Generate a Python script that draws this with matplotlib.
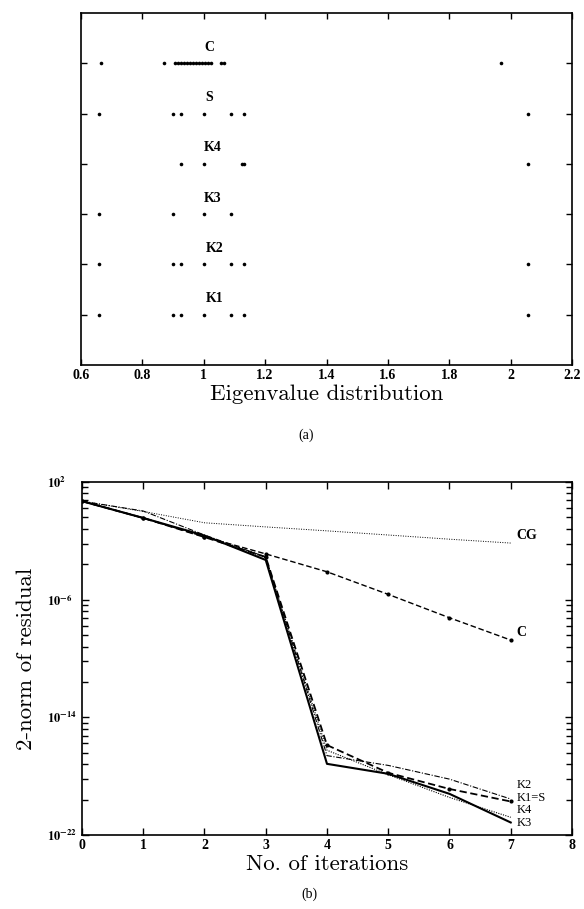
import numpy as np
import matplotlib
matplotlib.use("Agg")
import matplotlib.pyplot as plt
from matplotlib.ticker import FixedLocator, FixedFormatter, NullFormatter

plt.rcParams['mathtext.fontset'] = 'stix'

# ---- panel (a): eigenvalue distribution ----
row_names = ['K1', 'K2', 'K3', 'K4', 'S', 'C']
eig_K1 = [0.66, 0.90, 0.925, 1.0, 1.09, 1.13, 2.055]
eig_K2 = [0.66, 0.90, 0.925, 1.0, 1.09, 1.13, 2.055]
eig_K3 = [0.66, 0.90, 1.0, 1.09]
eig_K4 = [0.925, 1.0, 1.125, 1.13, 2.055]
eig_S = [0.66, 0.90, 0.925, 1.0, 1.09, 1.13, 2.055]
eig_C = [0.664, 0.87, 0.905, 0.915, 0.925, 0.935, 0.945, 0.955, 0.965, 0.975,
         0.985, 0.995, 1.005, 1.015, 1.025, 1.055, 1.065, 1.97]
label_x = [1.035, 1.035, 1.03, 1.03, 1.017, 1.017]

# ---- panel (b): residual history ----
iters = [0, 1, 2, 3, 4, 5, 6, 7]
res_CG = [5.0, 1.0, 0.17, 0.089, 0.048, 0.025, 0.013, 0.0071]
res_C = [5.0, 0.36, 0.019, 1.3e-3, 7.9e-5, 2.3e-6, 5.9e-8, 1.8e-9]
res_K1S = [5.0, 0.36, 0.018, 8.0e-4, 1.3e-16, 1.7e-18, 1.35e-19, 1.9e-20]
res_K2 = [5.0, 1.07, 0.025, 8.0e-4, 2.5e-17, 5.4e-18, 6.3e-19, 2.8e-20]
res_K3 = [5.0, 0.36, 0.023, 5.0e-4, 6.9e-18, 1.45e-18, 6.3e-20, 7.1e-22]
res_K4 = [5.0, 0.36, 0.021, 7.0e-4, 5.8e-17, 1.26e-18, 3.6e-20, 1.6e-21]
curve_labels = ['CG', 'C', 'K2', 'K1=S', 'K4', 'K3']
curve_label_y = [10**-1.63, 10**-8.25, 10**-18.6, 10**-19.45, 10**-20.3, 10**-21.15]

tickfont = dict(family='Liberation Serif', weight='bold', size=10)
labfont = 'cmr10'

fig = plt.figure(figsize=(5.84, 9.09), dpi=100)

# top panel
ax1 = fig.add_axes([0.1387, 0.5985, 0.8408, 0.3872])
rows = [eig_K1, eig_K2, eig_K3, eig_K4, eig_S, eig_C]
for i, vals in enumerate(rows):
    ax1.plot(vals, [i + 1] * len(vals), 'o', color='black', ms=2.6, mew=0)
    ax1.text(label_x[i], i + 1.32, row_names[i], ha='center', va='center',
             family='Liberation Serif', weight='bold', fontsize=10)
ax1.set_xlim(0.6, 2.2)
ax1.set_ylim(0, 7)
ax1.set_xticks([0.6, 0.8, 1.0, 1.2, 1.4, 1.6, 1.8, 2.0, 2.2])
ax1.set_xticklabels(['0.6', '0.8', '1', '1.2', '1.4', '1.6', '1.8', '2', '2.2'], fontdict=tickfont)
ax1.set_yticks([1, 2, 3, 4, 5, 6])
ax1.set_yticklabels([])
ax1.tick_params(direction='in', top=True, right=True, length=4, width=1, pad=3)
ax1.set_xlabel('Eigenvalue distribution', family=labfont, fontsize=16.5, labelpad=2)

# bottom panel
ax2 = fig.add_axes([0.1404, 0.0814, 0.839, 0.3883])
ax2.semilogy(iters, res_CG, color='black', lw=0.7, ls=(0, (1, 1.5)))
ax2.semilogy(iters, res_C, color='black', lw=1.0, ls=(0, (4, 2)), marker='o', ms=3, mew=0)
ax2.semilogy(iters, res_K2, color='black', lw=0.8, ls=(0, (5, 1.5, 1, 1.5)))
ax2.semilogy(iters, res_K4, color='black', lw=0.8, ls=(0, (1, 1.2)))
ax2.semilogy(iters, res_K1S, color='black', lw=1.3, ls=(0, (4, 2)), marker='o', ms=3, mew=0)
ax2.semilogy(iters, res_K3, color='black', lw=1.5, ls='-')
for i, lab in enumerate(curve_labels):
    ax2.text(7.1, curve_label_y[i], lab, ha='left', va='center',
             family='Liberation Serif', weight='bold' if i < 2 else 'normal',
             fontsize=10 if i < 2 else 9)
ax2.set_xlim(0, 8)
ax2.set_ylim(1e-22, 1e2)
ax2.set_xticks(range(9))
ax2.set_xticklabels([str(v) for v in range(9)], fontdict=tickfont)
major = [1e-22, 1e-14, 1e-6, 1e2]
ax2.yaxis.set_major_locator(FixedLocator(major))
ax2.yaxis.set_major_formatter(FixedFormatter([r'$\mathbf{10^{-22}}$', r'$\mathbf{10^{-14}}$',
                                              r'$\mathbf{10^{-6}}$', r'$\mathbf{10^{2}}$']))
minor = []
for base in [-22, -14, -6]:
    for k in range(2, 10):
        minor.append(10 ** (base + 8 * np.log10(k)))
ax2.yaxis.set_minor_locator(FixedLocator(minor))
ax2.yaxis.set_minor_formatter(NullFormatter())
ax2.tick_params(which='both', direction='in', top=True, right=True, width=1)
ax2.tick_params(which='major', length=5)
ax2.tick_params(which='minor', length=4)
ax2.tick_params(axis='x', which='major', pad=3)
ax2.tick_params(axis='y', which='major', pad=25)
for t in ax2.get_yticklabels():
    t.set_horizontalalignment('left')
    t.set_fontsize(9)
ax2.set_xlabel('No. of iterations', family=labfont, fontsize=16.5, labelpad=2)
ax2.set_ylabel('2-norm of residual', family=labfont, fontsize=16.5, labelpad=8)

for ax in (ax1, ax2):
    for s in ax.spines.values():
        s.set_linewidth(1.2)

fig.text(0.525, 1 - 435 / 909, '(a)', ha='center', va='center', family='Liberation Serif', fontsize=10)
fig.text(0.53, 1 - 894 / 909, '(b)', ha='center', va='center', family='Liberation Serif', fontsize=10)

fig.savefig('out.png', dpi=100)
